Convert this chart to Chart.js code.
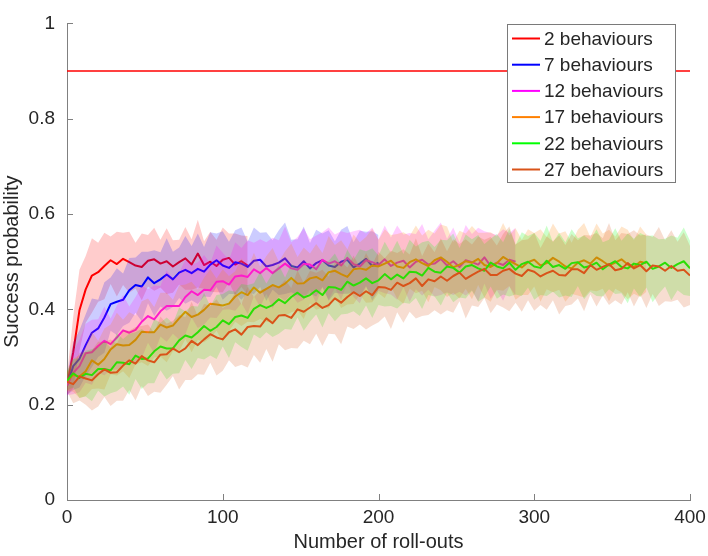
<!DOCTYPE html>
<html>
<head>
<meta charset="utf-8">
<script src="https://cdn.jsdelivr.net/npm/chart.js@4.4.0/dist/chart.umd.min.js"></script>
<style>
  html, body { margin: 0; padding: 0; background: #fff; }
  canvas { display: block; }
</style>
</head>
<body>
<canvas id="chart" width="708" height="556"></canvas>
<script>
(function () {
    'use strict';

    // one sample every 4 roll-outs
    const step = 4;
    const threshold = 0.9;
    const xTicks = [0, 100, 200, 300, 400];
    const yTicks = [0, 0.2, 0.4, 0.6, 0.8, 1];

    const seriesLabels = ['2 behaviours', '7 behaviours', '12 behaviours', '17 behaviours', '22 behaviours', '27 behaviours'];
    const seriesColors = ['#FF0000', '#0000FF', '#FF00FF', '#FF8000', '#00FF00', '#D95319'];

    // mean success probability (x = 0, 4, 8, ...)
    const mean2 = [0.24, 0.31, 0.398, 0.442, 0.471, 0.478, 0.491, 0.503, 0.495, 0.506, 0.499, 0.492, 0.489, 0.502, 0.505,
        0.496, 0.501, 0.49, 0.499, 0.507, 0.494, 0.517, 0.493, 0.5, 0.491, 0.504, 0.508, 0.494, 0.501, 0.492];
    const mean7 = [0.24, 0.281, 0.296, 0.325, 0.351, 0.36, 0.383, 0.411, 0.416, 0.42, 0.44, 0.451, 0.448, 0.467, 0.455,
        0.463, 0.473, 0.463, 0.477, 0.483, 0.476, 0.485, 0.479, 0.494, 0.503, 0.492, 0.487, 0.499, 0.496, 0.489,
        0.502, 0.504, 0.49, 0.493, 0.498, 0.507, 0.491, 0.488, 0.501, 0.486, 0.497, 0.503, 0.492, 0.489, 0.5,
        0.504, 0.488, 0.496, 0.506, 0.491, 0.498];
    const mean12 = [0.24, 0.267, 0.281, 0.308, 0.31, 0.323, 0.334, 0.327, 0.341, 0.356, 0.351, 0.357, 0.374, 0.386, 0.379,
        0.396, 0.407, 0.407, 0.407, 0.426, 0.438, 0.43, 0.441, 0.44, 0.458, 0.459, 0.452, 0.469, 0.471, 0.468,
        0.484, 0.476, 0.487, 0.476, 0.486, 0.496, 0.486, 0.483, 0.495, 0.494, 0.484, 0.504, 0.496, 0.501, 0.492,
        0.508, 0.495, 0.49, 0.503, 0.499, 0.493, 0.505, 0.491, 0.498, 0.502, 0.488, 0.5, 0.504, 0.494, 0.496,
        0.506, 0.492, 0.501, 0.489, 0.503, 0.499, 0.494, 0.509, 0.491, 0.498, 0.493, 0.504, 0.5];
    const mean17 = [0.25, 0.262, 0.259, 0.27, 0.293, 0.284, 0.296, 0.316, 0.327, 0.324, 0.325, 0.336, 0.353, 0.352, 0.352,
        0.368, 0.362, 0.366, 0.381, 0.395, 0.384, 0.389, 0.399, 0.412, 0.41, 0.408, 0.412, 0.427, 0.436, 0.43,
        0.446, 0.435, 0.443, 0.451, 0.446, 0.454, 0.466, 0.454, 0.455, 0.465, 0.468, 0.461, 0.478, 0.481, 0.474,
        0.468, 0.484, 0.486, 0.483, 0.492, 0.49, 0.496, 0.502, 0.49, 0.487, 0.499, 0.505, 0.497, 0.491, 0.503,
        0.509, 0.5, 0.488, 0.494, 0.501, 0.498, 0.506, 0.493, 0.489, 0.497, 0.51, 0.502, 0.495, 0.488, 0.499,
        0.504, 0.492, 0.497, 0.508, 0.5, 0.49, 0.486, 0.498, 0.503, 0.496, 0.509, 0.501, 0.492, 0.498, 0.505,
        0.494, 0.489, 0.5, 0.497];
    const mean22 = [0.25, 0.266, 0.256, 0.265, 0.262, 0.275, 0.275, 0.272, 0.289, 0.288, 0.285, 0.303, 0.296, 0.297, 0.312,
        0.322, 0.318, 0.318, 0.335, 0.345, 0.341, 0.352, 0.365, 0.355, 0.363, 0.377, 0.369, 0.384, 0.387, 0.382,
        0.401, 0.409, 0.403, 0.409, 0.421, 0.413, 0.426, 0.435, 0.425, 0.43, 0.44, 0.43, 0.447, 0.446, 0.441,
        0.458, 0.45, 0.456, 0.465, 0.455, 0.461, 0.474, 0.463, 0.473, 0.465, 0.479, 0.478, 0.471, 0.487, 0.479,
        0.477, 0.49, 0.487, 0.477, 0.49, 0.493, 0.486, 0.481, 0.498, 0.49, 0.486, 0.498, 0.483, 0.495, 0.5,
        0.49, 0.487, 0.502, 0.489, 0.493, 0.485, 0.497, 0.499, 0.488, 0.491, 0.498, 0.484, 0.494, 0.501, 0.489,
        0.486, 0.496, 0.493, 0.5, 0.485, 0.49, 0.498, 0.487, 0.495, 0.501, 0.486];
    const mean27 = [0.248, 0.243, 0.259, 0.255, 0.251, 0.264, 0.274, 0.267, 0.268, 0.282, 0.293, 0.286, 0.302, 0.293, 0.289,
        0.305, 0.306, 0.318, 0.31, 0.318, 0.334, 0.325, 0.337, 0.348, 0.341, 0.337, 0.352, 0.358, 0.347, 0.363,
        0.365, 0.364, 0.381, 0.371, 0.387, 0.388, 0.382, 0.4, 0.395, 0.404, 0.413, 0.403, 0.409, 0.423, 0.414,
        0.426, 0.436, 0.428, 0.438, 0.43, 0.447, 0.446, 0.441, 0.456, 0.449, 0.455, 0.465, 0.449, 0.463, 0.459,
        0.469, 0.46, 0.47, 0.477, 0.464, 0.472, 0.479, 0.485, 0.472, 0.472, 0.481, 0.485, 0.475, 0.47, 0.483,
        0.479, 0.469, 0.476, 0.481, 0.472, 0.471, 0.484, 0.484, 0.476, 0.493, 0.483, 0.489, 0.495, 0.482, 0.485,
        0.497, 0.486, 0.493, 0.48, 0.492, 0.49, 0.481, 0.491, 0.481, 0.483, 0.471];

    // half width of the shaded band
    const spread2 = [0.02, 0.075, 0.085, 0.07, 0.078, 0.062, 0.07, 0.05, 0.068, 0.055, 0.064, 0.048, 0.07, 0.054, 0.066,
        0.05, 0.069, 0.055, 0.047, 0.066, 0.053, 0.071, 0.05, 0.063, 0.055, 0.068, 0.051, 0.065, 0.054, 0.062];
    const spread7 = [0.02, 0.05, 0.06, 0.065, 0.072, 0.06, 0.074, 0.056, 0.07, 0.055, 0.068, 0.058, 0.073, 0.054, 0.069,
        0.057, 0.076, 0.058, 0.053, 0.071, 0.057, 0.074, 0.052, 0.068, 0.056, 0.072, 0.055, 0.067, 0.076, 0.053,
        0.07, 0.057, 0.072, 0.052, 0.068, 0.075, 0.055, 0.059, 0.073, 0.053, 0.07, 0.056, 0.074, 0.054, 0.067,
        0.071, 0.053, 0.069, 0.057, 0.073, 0.058];
    const spread12 = [0.02, 0.045, 0.055, 0.062, 0.068, 0.056, 0.072, 0.054, 0.067, 0.074, 0.055, 0.069, 0.076, 0.056, 0.071,
        0.053, 0.075, 0.058, 0.07, 0.078, 0.055, 0.069, 0.073, 0.057, 0.076, 0.06, 0.052, 0.072, 0.058, 0.077,
        0.056, 0.071, 0.054, 0.074, 0.059, 0.078, 0.055, 0.069, 0.075, 0.053, 0.071, 0.058, 0.076, 0.056, 0.072,
        0.052, 0.069, 0.077, 0.056, 0.073, 0.054, 0.071, 0.06, 0.078, 0.055, 0.072, 0.058, 0.075, 0.053, 0.069,
        0.076, 0.056, 0.071, 0.052, 0.074, 0.059, 0.077, 0.055, 0.069, 0.058, 0.075, 0.056, 0.071];
    const spread17 = [0.02, 0.035, 0.045, 0.052, 0.06, 0.05, 0.064, 0.052, 0.066, 0.054, 0.069, 0.051, 0.064, 0.071, 0.053,
        0.067, 0.073, 0.054, 0.069, 0.057, 0.074, 0.053, 0.068, 0.072, 0.055, 0.076, 0.058, 0.053, 0.071, 0.056,
        0.073, 0.055, 0.069, 0.078, 0.054, 0.068, 0.072, 0.056, 0.075, 0.052, 0.069, 0.057, 0.076, 0.054, 0.071,
        0.058, 0.073, 0.055, 0.069, 0.077, 0.056, 0.072, 0.054, 0.068, 0.075, 0.055, 0.071, 0.058, 0.076, 0.056,
        0.069, 0.074, 0.053, 0.071, 0.058, 0.077, 0.055, 0.068, 0.073, 0.056, 0.071, 0.053, 0.075, 0.058, 0.069,
        0.056, 0.076, 0.055, 0.072, 0.059, 0.074, 0.054, 0.069, 0.078, 0.056, 0.071, 0.058, 0.075, 0.055, 0.069,
        0.073, 0.056, 0.074, 0.06];
    const spread22 = [0.02, 0.03, 0.042, 0.048, 0.055, 0.046, 0.058, 0.048, 0.061, 0.05, 0.064, 0.049, 0.063, 0.052, 0.067,
        0.05, 0.065, 0.053, 0.069, 0.051, 0.066, 0.054, 0.07, 0.052, 0.067, 0.055, 0.071, 0.053, 0.066, 0.069,
        0.054, 0.07, 0.051, 0.067, 0.072, 0.054, 0.069, 0.052, 0.07, 0.056, 0.051, 0.068, 0.055, 0.071, 0.052,
        0.067, 0.054, 0.07, 0.057, 0.073, 0.052, 0.068, 0.056, 0.071, 0.051, 0.067, 0.054, 0.07, 0.057, 0.052,
        0.069, 0.055, 0.072, 0.052, 0.067, 0.054, 0.07, 0.056, 0.05, 0.068, 0.055, 0.071, 0.052, 0.067, 0.054,
        0.07, 0.057, 0.074, 0.052, 0.068, 0.056, 0.071, 0.05, 0.067, 0.054, 0.07, 0.057, 0.052, 0.069, 0.055,
        0.073, 0.052, 0.067, 0.054, 0.07, 0.057, 0.05, 0.068, 0.055, 0.071, 0.058];
    const spread27 = [0.02, 0.04, 0.05, 0.055, 0.063, 0.068, 0.058, 0.07, 0.06, 0.074, 0.062, 0.077, 0.063, 0.075, 0.062,
        0.08, 0.064, 0.058, 0.078, 0.066, 0.082, 0.061, 0.074, 0.06, 0.08, 0.066, 0.059, 0.079, 0.063, 0.085,
        0.061, 0.076, 0.064, 0.081, 0.06, 0.074, 0.063, 0.082, 0.061, 0.077, 0.064, 0.08, 0.06, 0.075, 0.087,
        0.062, 0.077, 0.06, 0.08, 0.064, 0.074, 0.061, 0.082, 0.062, 0.077, 0.06, 0.084, 0.063, 0.075, 0.061,
        0.08, 0.062, 0.077, 0.06, 0.083, 0.064, 0.074, 0.061, 0.08, 0.062, 0.077, 0.089, 0.061, 0.075, 0.064,
        0.082, 0.06, 0.077, 0.062, 0.083, 0.064, 0.074, 0.061, 0.08, 0.062, 0.077, 0.06, 0.086, 0.063, 0.075,
        0.061, 0.08, 0.062, 0.077, 0.06, 0.083, 0.064, 0.075, 0.061, 0.079, 0.062];

    const means = [mean2, mean7, mean12, mean17, mean22, mean27];
    const spreads = [spread2, spread7, spread12, spread17, spread22, spread27];

    const fontFamily = "'Liberation Sans', Arial, Helvetica, sans-serif";
    const textColor = '#262626';
    const axisColor = '#808080';

    function rgba(hex, a) {
        const n = parseInt(hex.slice(1), 16);
        return 'rgba(' + (n >> 16 & 255) + ',' + (n >> 8 & 255) + ',' + (n & 255) + ',' + a + ')';
    }

    const datasets = [];
    means.forEach(function (m, k) {
        const s = spreads[k];
        const c = seriesColors[k];
        // band first, then its line; earlier series sit underneath later ones
        datasets.push({
            label: '_upper',
            data: m.map(function (v, i) { return { x: i * step, y: v + s[Math.min(i, s.length - 1)] }; }),
            fill: '+1',
            backgroundColor: rgba(c, 0.2),
            borderWidth: 0,
            pointRadius: 0,
            order: 100 - 2 * k
        });
        datasets.push({
            label: '_lower',
            data: m.map(function (v, i) { return { x: i * step, y: v - s[Math.min(i, s.length - 1)] }; }),
            fill: false,
            borderWidth: 0,
            pointRadius: 0,
            order: 100 - 2 * k
        });
        datasets.push({
            label: seriesLabels[k],
            data: m.map(function (v, i) { return { x: i * step, y: v }; }),
            borderColor: c,
            borderWidth: 2,
            pointRadius: 0,
            fill: false,
            order: 99 - 2 * k
        });
    });
    datasets.push({
        label: '_threshold',
        data: [{ x: 0, y: threshold }, { x: 400, y: threshold }],
        borderColor: '#FF0000',
        borderWidth: 1.5,
        pointRadius: 0,
        fill: false,
        order: 0
    });

    // small ticks pointing into the plot
    const innerTicks = {
        id: 'innerTicks',
        beforeDatasetsDraw: function (chart) {
            const ctx = chart.ctx;
            const a = chart.chartArea;
            ctx.save();
            ctx.strokeStyle = axisColor;
            ctx.lineWidth = 1;
            ctx.beginPath();
            xTicks.forEach(function (v) {
                const px = Math.round(chart.scales.x.getPixelForValue(v)) + 0.5;
                ctx.moveTo(px, a.bottom);
                ctx.lineTo(px, a.bottom - 6);
            });
            yTicks.forEach(function (v) {
                const py = Math.round(chart.scales.y.getPixelForValue(v)) + 0.5;
                ctx.moveTo(a.left, py);
                ctx.lineTo(a.left + 6, py);
            });
            ctx.stroke();
            ctx.restore();
        }
    };

    // boxed legend in the top right corner of the plot
    const boxLegend = {
        id: 'boxLegend',
        afterDraw: function (chart) {
            const ctx = chart.ctx;
            const left = 507, top = 24, w = 168, h = 158;
            ctx.save();
            ctx.fillStyle = '#fff';
            ctx.fillRect(left, top, w, h);
            ctx.strokeStyle = '#7a7a7a';
            ctx.lineWidth = 1;
            ctx.strokeRect(left + 0.5, top + 0.5, w, h);
            ctx.font = '19px ' + fontFamily;
            ctx.textBaseline = 'middle';
            ctx.fillStyle = textColor;
            seriesLabels.forEach(function (lab, i) {
                const y = top + 14.5 + i * 26.2;
                ctx.strokeStyle = seriesColors[i];
                ctx.lineWidth = 2;
                ctx.beginPath();
                ctx.moveTo(left + 5, y);
                ctx.lineTo(left + 33, y);
                ctx.stroke();
                ctx.fillText(lab, left + 37, y + 1);
            });
            ctx.restore();
        }
    };

    new Chart(document.getElementById('chart'), {
        type: 'line',
        data: { datasets: datasets },
        options: {
            responsive: false,
            animation: false,
            devicePixelRatio: 1,
            layout: { padding: { top: 10, right: 18, left: 0, bottom: 0 } },
            elements: { line: { tension: 0, borderJoinStyle: 'round' } },
            scales: {
                x: {
                    type: 'linear',
                    min: 0,
                    max: 400,
                    afterBuildTicks: function (scale) { scale.ticks = xTicks.map(function (v) { return { value: v }; }); },
                    afterFit: function (scale) {
                        scale.height = 56;
                        scale.paddingLeft = 0;
                        scale.paddingRight = 0;
                    },
                    grid: { display: false, drawTicks: false },
                    border: { display: true, color: axisColor, width: 1 },
                    ticks: { color: textColor, font: { family: fontFamily, size: 19 }, padding: 6, maxRotation: 0 },
                    title: {
                        display: true,
                        text: 'Number of roll-outs',
                        color: textColor,
                        font: { family: fontFamily, size: 20 },
                        padding: { top: 0, bottom: 2 }
                    }
                },
                y: {
                    type: 'linear',
                    min: 0,
                    max: 1,
                    afterBuildTicks: function (scale) { scale.ticks = yTicks.map(function (v) { return { value: v }; }); },
                    afterFit: function (scale) { scale.width = 67; },
                    grid: { display: false, drawTicks: false },
                    border: { display: true, color: axisColor, width: 1 },
                    ticks: {
                        color: textColor,
                        font: { family: fontFamily, size: 19 },
                        padding: 12,
                        callback: function (value) { return String(Math.round(value * 10) / 10); }
                    },
                    title: {
                        display: true,
                        text: 'Success probability',
                        color: textColor,
                        font: { family: fontFamily, size: 20 },
                        padding: { top: 0, bottom: 0 }
                    }
                }
            },
            plugins: {
                legend: { display: false },
                tooltip: { enabled: false }
            }
        },
        plugins: [innerTicks, boxLegend]
    });

})();
</script>
</body>
</html>
